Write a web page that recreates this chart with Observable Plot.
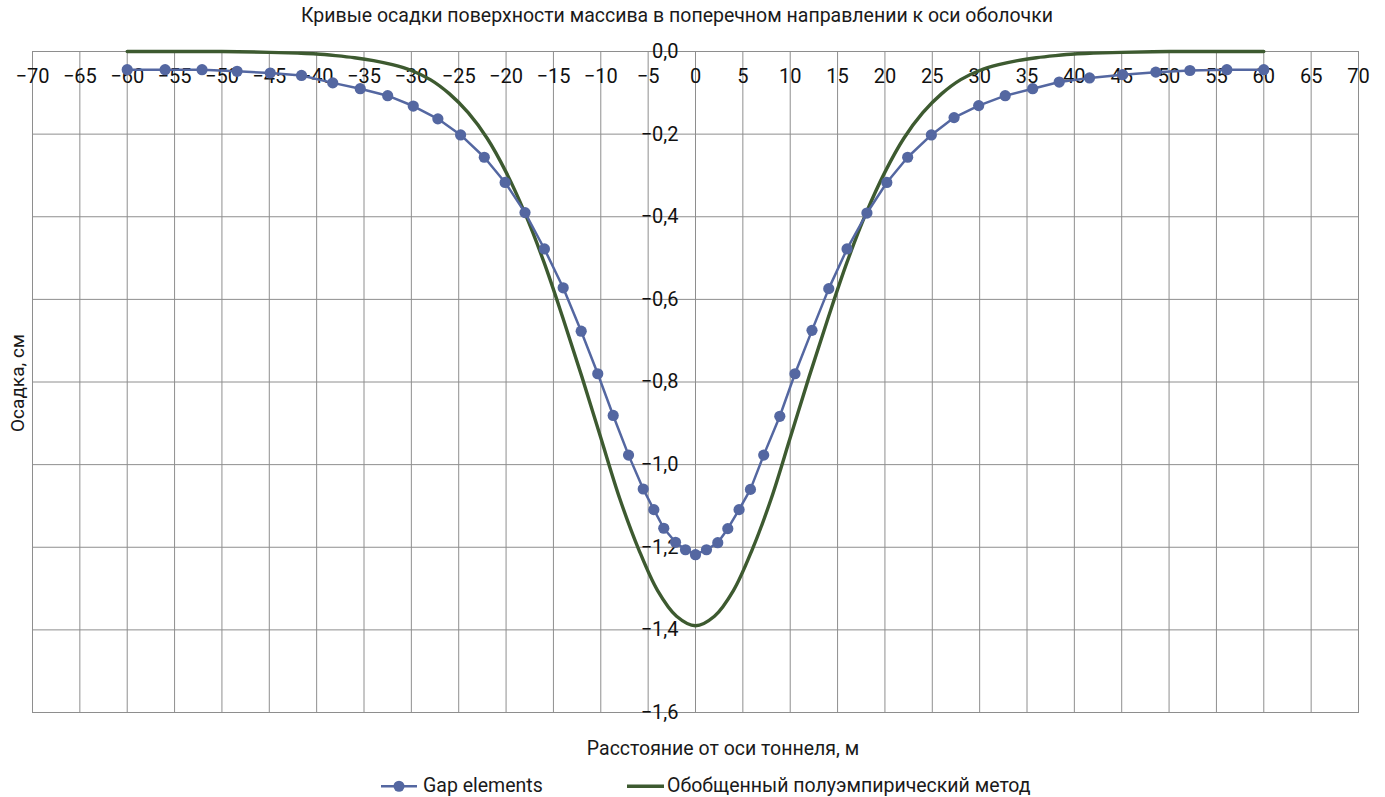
<!DOCTYPE html>
<html>
<head>
<meta charset="utf-8">
<script src="https://cdn.jsdelivr.net/npm/d3@7"></script>
<script src="https://cdn.jsdelivr.net/npm/@observablehq/plot@0.6"></script>
<style>
  body { margin: 0; background: #fff; font-family: Roboto, "Noto Sans", sans-serif; color: #1a1a1a; }
  #wrap { position: relative; width: 1385px; height: 797px; overflow: hidden; }
  .abs { position: absolute; white-space: nowrap; font-size: 19.5px; line-height: 1; }
  .leg { display: flex; align-items: center; }
</style>
</head>
<body>
<div id="wrap">
  <div class="abs" id="title" style="left:677px;top:16px;transform:translate(-50%,-50%);font-size:19.5px;">Кривые осадки поверхности массива в поперечном направлении к оси оболочки</div>
  <div class="abs" id="ylab" style="left:17px;top:383px;transform:translate(-50%,-50%) rotate(-90deg);font-size:19px;">Осадка, см</div>
  <div class="abs" id="xlab" style="left:723px;top:749px;transform:translate(-50%,-50%);">Расстояние от оси тоннеля, м</div>
  <div class="abs leg" style="left:381px;top:786px;transform:translateY(-50%);">
    <svg width="36" height="12"><line x1="0" y1="6" x2="36" y2="6" stroke="#5467a1" stroke-width="2.5"/><circle cx="18" cy="6" r="5.5" fill="#5467a1"/></svg>
    <span style="margin-left:6px">Gap elements</span>
  </div>
  <div class="abs leg" style="left:627px;top:786px;transform:translateY(-50%);">
    <svg width="37" height="12"><line x1="0" y1="6" x2="37" y2="6" stroke="#3d5a30" stroke-width="3.4"/></svg>
    <span style="margin-left:3px">Обобщенный полуэмпирический метод</span>
  </div>
</div>
<script>
// Tick values
const xTicks = [-70, -65, -60, -55, -50, -45, -40, -35, -30, -25, -20, -15, -10, -5, 0, 5, 10, 15, 20, 25, 30, 35, 40, 45, 50, 55, 60, 65, 70];
const yTicks = [0, -0.2, -0.4, -0.6, -0.8, -1.0, -1.2, -1.4, -1.6];

// Series 1: Gap elements (distance, m; settlement, cm)
const gapX = [-60.0, -56.0, -52.1, -48.4, -44.9, -41.6, -38.3, -35.4, -32.5, -29.8, -27.2, -24.8, -22.3, -20.1, -18.0, -15.95, -13.97, -12.07, -10.32, -8.69, -7.07, -5.52, -4.40, -3.35, -2.11, -1.06, 0,
              1.16, 2.35, 3.41, 4.60, 5.80, 7.20, 8.90, 10.50, 12.30, 14.07, 16.0, 18.1, 20.2, 22.4, 24.9, 27.3, 29.9, 32.7, 35.6, 38.4, 41.6, 45.1, 48.6, 52.2, 56.1, 60.0];
const gapY = [-0.044, -0.044, -0.044, -0.048, -0.052, -0.058, -0.076, -0.090, -0.107, -0.132, -0.163, -0.202, -0.256, -0.317, -0.390, -0.478, -0.572, -0.677, -0.780, -0.881, -0.977, -1.059, -1.109, -1.154, -1.188, -1.206, -1.218,
              -1.206, -1.189, -1.155, -1.109, -1.060, -0.977, -0.883, -0.780, -0.675, -0.574, -0.478, -0.391, -0.317, -0.256, -0.202, -0.160, -0.131, -0.107, -0.090, -0.074, -0.064, -0.056, -0.050, -0.046, -0.044, -0.044];

// Series 2: Обобщенный полуэмпирический метод
const semX = [-60, -55, -50, -45, -42, -40, -38, -36, -34, -32, -30, -28, -26, -24, -22, -20, -18, -16, -14, -12, -10, -8, -6, -4, -2, 0,
              2, 4, 6, 8, 10, 12, 14, 16, 18, 20, 22, 24, 26, 28, 30, 32, 34, 36, 38, 40, 42, 45, 50, 55, 60];
const semY = [0, 0, 0, -0.002, -0.004, -0.006, -0.010, -0.015, -0.022, -0.032, -0.046, -0.068, -0.102, -0.148, -0.210, -0.292, -0.392, -0.510, -0.645, -0.787, -0.935, -1.082, -1.205, -1.305, -1.367, -1.390,
              -1.367, -1.305, -1.205, -1.082, -0.935, -0.787, -0.645, -0.510, -0.392, -0.292, -0.210, -0.148, -0.102, -0.068, -0.046, -0.032, -0.022, -0.015, -0.010, -0.006, -0.004, -0.002, 0, 0, 0];

const gap = gapX.map((x, i) => ({x, y: gapY[i]}));
const sem = semX.map((x, i) => ({x, y: semY[i]}));

const BLUE = "#5467a1";
const GREEN = "#3d5a30";
const GRID = "#8e8e8e";

const fmtX = d => (d < 0 ? "\u2212" + Math.abs(d) : String(d));
const fmtY = d => (d < 0 ? "\u2212" : "") + Math.abs(d).toFixed(1).replace(".", ",");

const chart = Plot.plot({
  width: 1385,
  height: 797,
  marginLeft: 32,
  marginRight: 27,
  marginTop: 51,
  marginBottom: 85,
  x: {domain: [-70, 70], axis: null},
  y: {domain: [-1.6, 0], axis: null},
  style: {fontFamily: "Roboto, sans-serif", background: "transparent", overflow: "visible"},
  marks: [
    Plot.gridX(xTicks, {stroke: GRID, strokeOpacity: 1, strokeWidth: 1}),
    Plot.gridY(yTicks, {stroke: GRID, strokeOpacity: 1, strokeWidth: 1}),
    Plot.frame({stroke: GRID, strokeWidth: 1}),
    Plot.text(xTicks, {x: d => d, y: 0, dy: 25, text: fmtX, fontSize: 20, fill: "#111"}),
    Plot.text(yTicks, {x: 0, y: d => d, dx: -17, textAnchor: "end", text: fmtY, fontSize: 20, fill: "#111"}),
    Plot.line(sem, {x: "x", y: "y", stroke: GREEN, strokeWidth: 3.4, curve: "catmull-rom"}),
    Plot.line(gap, {x: "x", y: "y", stroke: BLUE, strokeWidth: 2.5}),
    Plot.dot(gap, {x: "x", y: "y", r: 5.6, fill: BLUE, stroke: "none"})
  ]
});
chart.style.position = "absolute";
chart.style.left = "0";
chart.style.top = "0";
document.getElementById("wrap").prepend(chart);
</script>
</body>
</html>
